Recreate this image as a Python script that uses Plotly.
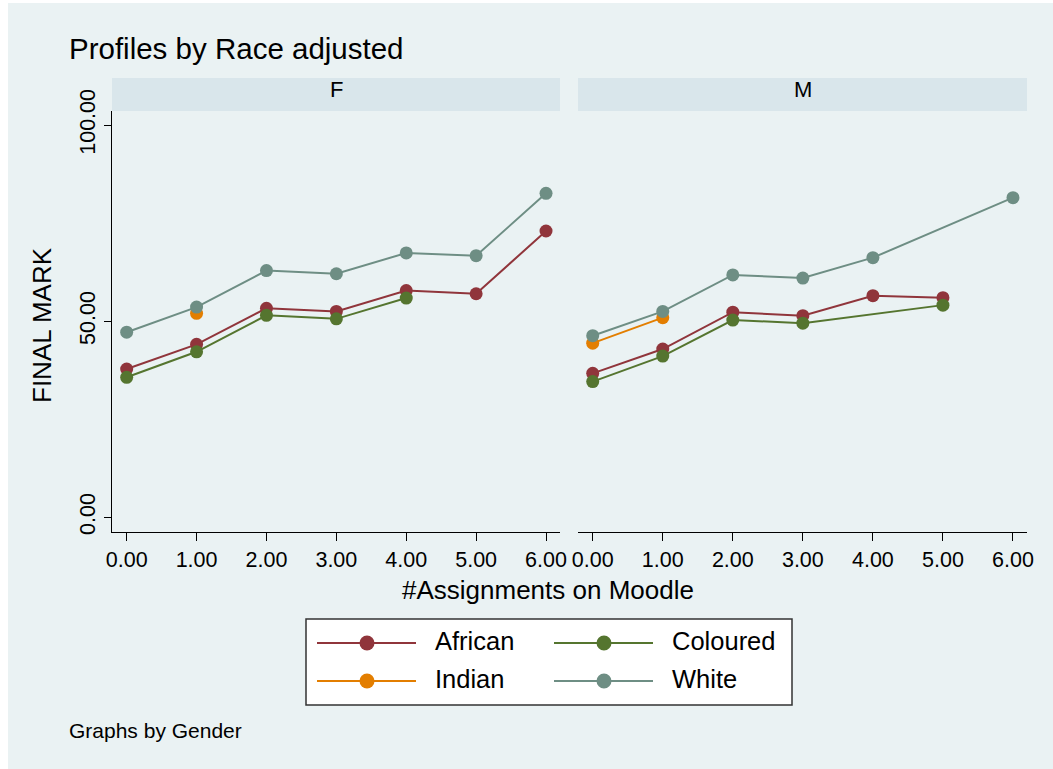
import plotly.graph_objects as go

# ---- data -------------------------------------------------------------
assignments = [0, 1, 2, 3, 4, 5, 6]
tick_labels = ["0.00", "1.00", "2.00", "3.00", "4.00", "5.00", "6.00"]
y_ticks = [0, 50, 100]
y_tick_labels = ["0.00", "50.00", "100.00"]

races = ["African", "Coloured", "Indian", "White"]
race_colors = ["#90353B", "#55752F", "#E37E00", "#6E8E84"]

# adjusted mean FINAL MARK by number of assignments, female panel
african_f = [37.8, 44.1, 53.3, 52.5, 57.8, 57.0, 73.0]
coloured_f = [35.7, 42.2, 51.5, 50.6, 55.9, None, None]
indian_f = [None, 52.0, None, None, None, None, None]
white_f = [47.2, 53.6, 62.9, 62.1, 67.4, 66.7, 82.6]

# male panel
african_m = [36.7, 42.9, 52.3, 51.4, 56.5, 56.0, None]
coloured_m = [34.6, 41.1, 50.3, 49.5, None, 54.1, None]
indian_m = [44.4, 50.9, None, None, None, None, None]
white_m = [46.3, 52.5, 61.8, 61.0, 66.2, None, 81.5]

panels = ["F", "M"]
panel_series = [
    [african_f, coloured_f, indian_f, white_f],
    [african_m, coloured_m, indian_m, white_m],
]

# ---- page geometry (pixels) -------------------------------------------
W, H = 1053, 769
BG = "#EAF2F3"
STRIP = "#D9E6EB"
FONT = "Liberation Sans, Arial, sans-serif"


def px(x):
    return x / W


def py(y):
    return 1 - y / H


plot_top, plot_bottom = 111, 532
panel_x = [(112, 560), (578, 1027)]

fig = go.Figure()

for p, series in enumerate(panel_series):
    xa = "x" if p == 0 else "x2"
    ya = "y" if p == 0 else "y2"
    for name, color, values in zip(races, race_colors, series):
        xs = [a for a, v in zip(assignments, values) if v is not None]
        ys = [v for v in values if v is not None]
        fig.add_trace(go.Scatter(
            x=xs, y=ys, mode="lines+markers", name=name,
            line=dict(color=color, width=2),
            marker=dict(color=color, size=13),
            xaxis=xa, yaxis=ya, showlegend=False, cliponaxis=False,
        ))

x_range = [-0.21, 6.2]
y_range = [-3.75, 103.6]
tick_font = dict(family=FONT, size=21.5, color="black")

common_x = dict(
    range=x_range, tickvals=assignments, ticktext=tick_labels,
    ticks="outside", ticklen=8, tickwidth=1.3, tickcolor="black",
    showline=True, linecolor="black", linewidth=1.3, showgrid=False,
    zeroline=False, tickfont=tick_font, fixedrange=True, automargin=False,
)
common_y = dict(
    range=y_range, domain=[py(plot_bottom), py(plot_top)],
    tickvals=y_ticks, showgrid=True, gridcolor=BG, gridwidth=2,
    zeroline=False, fixedrange=True, automargin=False,
)

fig.update_layout(
    width=W, height=H,
    margin=dict(l=0, r=0, t=0, b=0, pad=0, autoexpand=False),
    paper_bgcolor="white", plot_bgcolor="white",
    showlegend=False,
    xaxis=dict(domain=[px(panel_x[0][0]), px(panel_x[0][1])], anchor="y", **common_x),
    xaxis2=dict(domain=[px(panel_x[1][0]), px(panel_x[1][1])], anchor="y2", **common_x),
    yaxis=dict(anchor="x", ticktext=y_tick_labels, tickangle=-90,
               ticks="outside", ticklen=7, tickwidth=1.3, tickcolor="black",
               showline=True, linecolor="black", linewidth=1.3,
               tickfont=tick_font, **common_y),
    yaxis2=dict(anchor="x2", showticklabels=False, ticks="",
                showline=False, **common_y),
)

shapes = [
    # graph region background
    dict(type="rect", xref="paper", yref="paper", x0=px(8), x1=1, y0=0, y1=py(3),
         fillcolor=BG, line=dict(width=0), layer="below"),
]
annotations = []

# panel header strips
for (x0, x1), label in zip(panel_x, panels):
    shapes.append(dict(type="rect", xref="paper", yref="paper",
                       x0=px(x0), x1=px(x1), y0=py(plot_top), y1=py(78),
                       fillcolor=STRIP, line=dict(width=0), layer="below"))
    annotations.append(dict(text=label, xref="paper", yref="paper",
                            x=px((x0 + x1) / 2), y=py(89), showarrow=False,
                            xanchor="center", yanchor="middle",
                            font=dict(family=FONT, size=22, color="black")))

# titles
annotations += [
    dict(text="Profiles by Race adjusted", xref="paper", yref="paper",
         x=px(67), y=py(48), xanchor="left", yanchor="middle", showarrow=False,
         font=dict(family=FONT, size=29.5, color="black")),
    dict(text="FINAL MARK", xref="paper", yref="paper", textangle=-90,
         x=px(42), y=py(325), xanchor="center", yanchor="middle", showarrow=False,
         font=dict(family=FONT, size=26, color="black")),
    dict(text="#Assignments on Moodle", xref="paper", yref="paper",
         x=px(548), y=py(590), xanchor="center", yanchor="middle", showarrow=False,
         font=dict(family=FONT, size=26, color="black")),
    dict(text="Graphs by Gender", xref="paper", yref="paper",
         x=px(67), y=py(730), xanchor="left", yanchor="middle", showarrow=False,
         font=dict(family=FONT, size=21, color="black")),
]

# legend box, two columns, row-major order
shapes.append(dict(type="rect", xref="paper", yref="paper",
                   x0=px(306), x1=px(792), y0=py(705), y1=py(619),
                   fillcolor="white", line=dict(color="#333333", width=1.5)))
col_x = [317, 554]
row_y = [643, 681]
for i, (name, color) in enumerate(zip(races, race_colors)):
    cx = col_x[i % 2]
    cy = row_y[i // 2]
    shapes.append(dict(type="line", xref="paper", yref="paper",
                       x0=px(cx), x1=px(cx + 99), y0=py(cy), y1=py(cy),
                       line=dict(color=color, width=2)))
    r = 7.5
    mx = cx + 50
    shapes.append(dict(type="circle", xref="paper", yref="paper",
                       x0=px(mx - r), x1=px(mx + r), y0=py(cy + r), y1=py(cy - r),
                       fillcolor=color, line=dict(color=color, width=0)))
    annotations.append(dict(text=name, xref="paper", yref="paper",
                            x=px(cx + 116), y=py(cy - 2), xanchor="left",
                            yanchor="middle", showarrow=False,
                            font=dict(family=FONT, size=25.5, color="black")))

fig.update_layout(shapes=shapes, annotations=annotations)
fig.write_html("out.html")
